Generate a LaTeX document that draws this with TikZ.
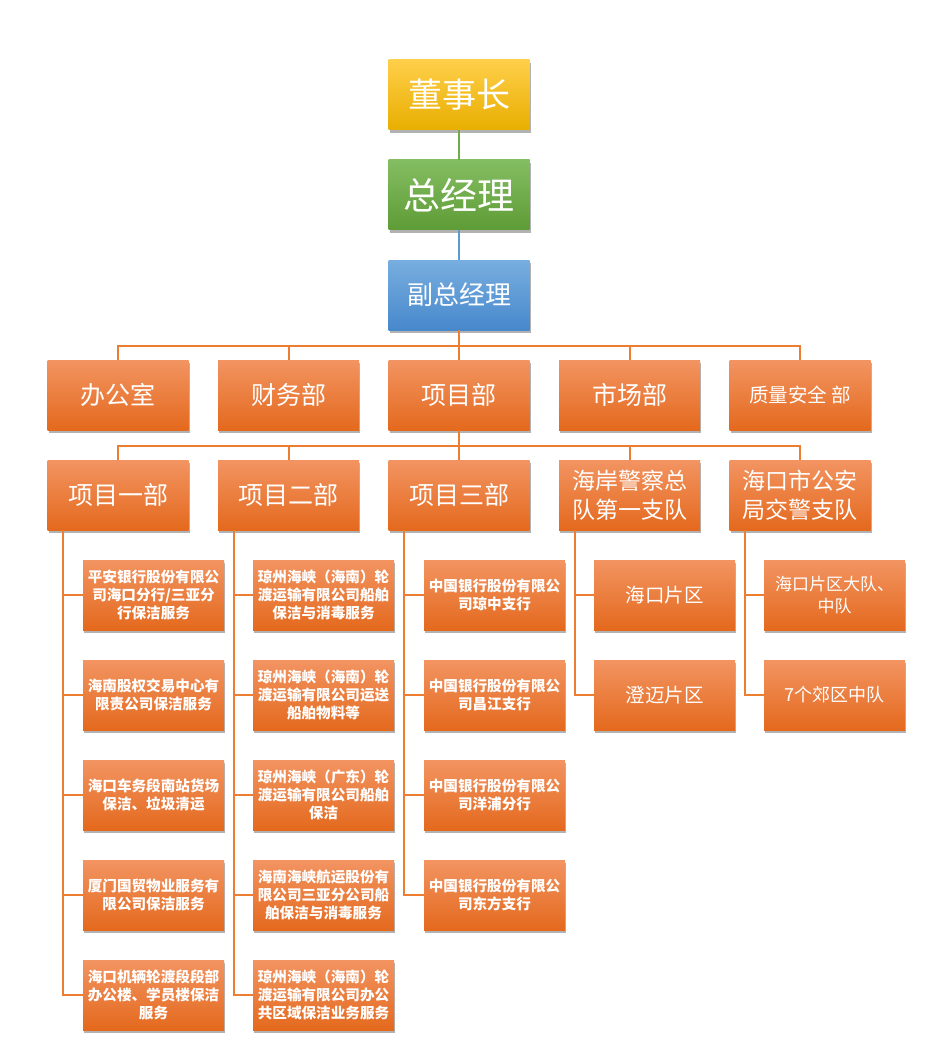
\documentclass[tikz,border=0pt]{standalone}
\usepackage{fontspec}
\setmainfont{Noto Sans CJK SC}
\usetikzlibrary{shadows}
\definecolor{orgT}{HTML}{F29462}
\definecolor{orgM}{HTML}{F07C2C}
\definecolor{orgB}{HTML}{E4691D}
\definecolor{ylwT}{HTML}{FFCF4A}
\definecolor{ylwM}{HTML}{FFC000}
\definecolor{ylwB}{HTML}{E8AE00}
\definecolor{grnT}{HTML}{84BD62}
\definecolor{grnM}{HTML}{70AD47}
\definecolor{grnB}{HTML}{5E9C36}
\definecolor{bluT}{HTML}{78AEDF}
\definecolor{bluM}{HTML}{5B9BD5}
\definecolor{bluB}{HTML}{4788CC}
\definecolor{lineO}{HTML}{ED7D31}
\definecolor{lineG}{HTML}{70AD47}
\definecolor{lineB}{HTML}{5B9BD5}
\tikzset{
  box/.style={minimum width=141pt, minimum height=70pt, inner sep=0pt, align=center, text=white,
    drop shadow={shadow xshift=1.2pt, shadow yshift=-3pt, opacity=0.3, fill=black}},
  obox/.style={box, top color=orgT, middle color=orgM, bottom color=orgB},
  ybox/.style={box, top color=ylwT, middle color=ylwM, bottom color=ylwB},
  gbox/.style={box, top color=grnT, middle color=grnM, bottom color=grnB},
  bbox/.style={box, top color=bluT, middle color=bluM, bottom color=bluB},
  hugefont/.style={font=\fontsize{34}{40}\selectfont},
  midfont/.style={font=\fontsize{25}{30}\selectfont},
  twofont/.style={font=\fontsize{23}{29}\selectfont},
  smallfont/.style={font=\fontsize{19.5}{24}\selectfont},
  subfont/.style={font=\bfseries\fontsize{14.6}{18}\selectfont},
  oline/.style={draw=lineO, line width=2pt},
}
\begin{document}
\begin{tikzpicture}[x=1pt,y=-1pt]
\useasboundingbox (0,0) rectangle (935,1059);
% top chain
\node[ybox, hugefont] (d) at (459,95) {董事长};
\node[gbox, font=\fontsize{37}{42}\selectfont] (z) at (459,195) {总经理};
\node[bbox, font=\fontsize{26}{30}\selectfont] (f) at (459,295) {副总经理};
% departments
\node[obox, midfont] (b1) at (118,395) {办公室};
\node[obox, midfont] (b2) at (288.5,395) {财务部};
\node[obox, midfont] (b3) at (459,395) {项目部};
\node[obox, midfont] (b4) at (629.5,395) {市场部};
\node[obox, font=\fontsize{19.5}{24}\selectfont] (b5) at (800,395) {质量安全 部};
% project row
\node[obox, midfont] (p1) at (118,495) {项目一部};
\node[obox, midfont] (p2) at (288.5,495) {项目二部};
\node[obox, midfont] (p3) at (459,495) {项目三部};
\node[obox, twofont] (p4) at (629.5,495) {海岸警察总\\队第一支队};
\node[obox, twofont] (p5) at (800,495) {海口市公安\\局交警支队};
% column 1
\node[obox, subfont] (s11) at (153.5,595) {平安银行股份有限公\\司海口分行/三亚分\\行保洁服务};
\node[obox, subfont] (s12) at (153.5,695) {海南股权交易中心有\\限责公司保洁服务};
\node[obox, subfont] (s13) at (153.5,795) {海口车务段南站货场\\保洁、垃圾清运};
\node[obox, subfont] (s14) at (153.5,895) {厦门国贸物业服务有\\限公司保洁服务};
\node[obox, subfont] (s15) at (153.5,995) {海口机辆轮渡段段部\\办公楼、学员楼保洁\\服务};
% column 2
\node[obox, subfont] (s21) at (323.5,595) {琼州海峡（海南）轮\\渡运输有限公司船舶\\保洁与消毒服务};
\node[obox, subfont] (s22) at (323.5,695) {琼州海峡（海南）轮\\渡运输有限公司运送\\船舶物料等};
\node[obox, subfont] (s23) at (323.5,795) {琼州海峡（广东）轮\\渡运输有限公司船舶\\保洁};
\node[obox, subfont] (s24) at (323.5,895) {海南海峡航运股份有\\限公司三亚分公司船\\舶保洁与消毒服务};
\node[obox, subfont] (s25) at (323.5,995) {琼州海峡（海南）轮\\渡运输有限公司办公\\共区域保洁业务服务};
% column 3
\node[obox, subfont] (s31) at (494.5,595) {中国银行股份有限公\\司琼中支行};
\node[obox, subfont] (s32) at (494.5,695) {中国银行股份有限公\\司昌江支行};
\node[obox, subfont] (s33) at (494.5,795) {中国银行股份有限公\\司洋浦分行};
\node[obox, subfont] (s34) at (494.5,895) {中国银行股份有限公\\司东方支行};
% column 4
\node[obox, smallfont] (s41) at (664.5,595) {海口片区};
\node[obox, smallfont] (s42) at (664.5,695) {澄迈片区};
% column 5
\node[obox, font=\fontsize{17}{22}\selectfont] (s51) at (834.5,595) {海口片区大队、\\中队};
\node[obox, font=\fontsize{18}{22}\selectfont] (s52) at (834.5,695) {7个郊区中队};
% connectors
\draw[draw=lineG, line width=2pt] (d.south) -- (z.north);
\draw[draw=lineB, line width=2pt] (z.south) -- (f.north);
\coordinate (bar1) at (459,346);
\draw[oline] (f.south) -- (bar1);
\foreach \n in {b1,b2,b3,b4,b5} \draw[oline] (bar1) -| (\n.north);
\coordinate (bar2) at (459,446);
\draw[oline] (b3.south) -- (bar2);
\foreach \n in {p1,p2,p3,p4,p5} \draw[oline] (bar2) -| (\n.north);
\foreach \n in {s11,s12,s13,s14,s15} \draw[oline] ([xshift=16pt]p1.south west) |- (\n.west);
\foreach \n in {s21,s22,s23,s24,s25} \draw[oline] ([xshift=16pt]p2.south west) |- (\n.west);
\foreach \n in {s31,s32,s33,s34} \draw[oline] ([xshift=16pt]p3.south west) |- (\n.west);
\foreach \n in {s41,s42} \draw[oline] ([xshift=16pt]p4.south west) |- (\n.west);
\foreach \n in {s51,s52} \draw[oline] ([xshift=16pt]p5.south west) |- (\n.west);
\end{tikzpicture}
\end{document}
